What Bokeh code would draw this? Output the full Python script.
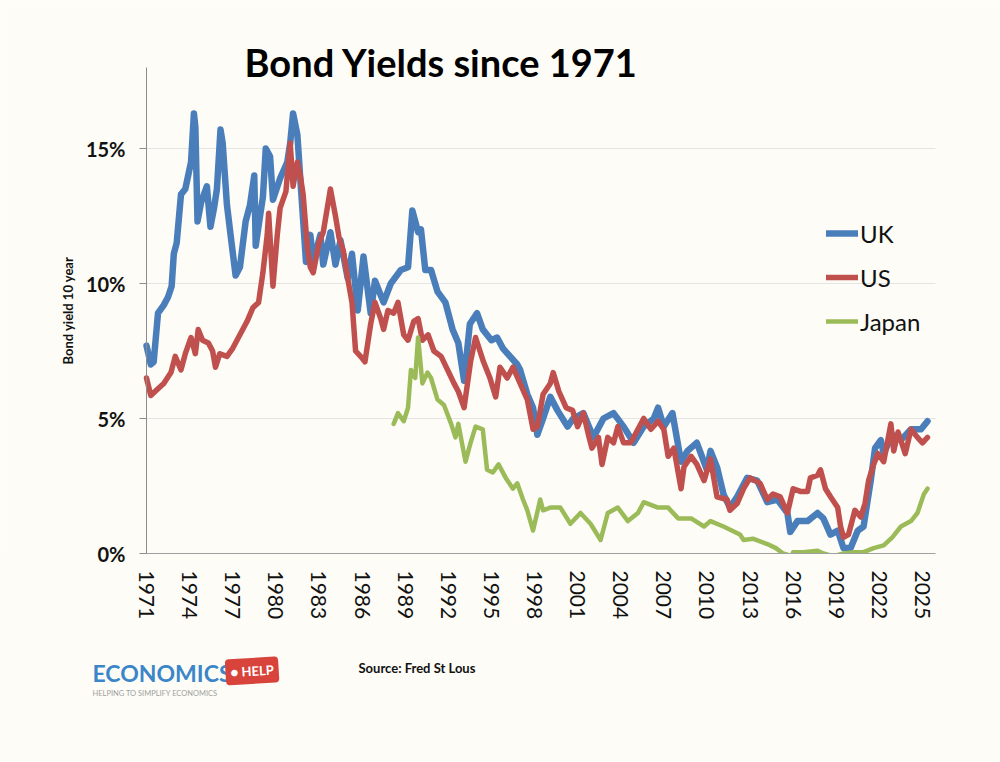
import math
from bokeh.plotting import figure
from bokeh.models import (FixedTicker, PrintfTickFormatter, Label, Legend, LegendItem,
                          Range1d, ColumnDataSource, BoxAnnotation)
from bokeh.embed import file_html
from bokeh.resources import INLINE

# ---------------- data ----------------
uk_year = [1971.0, 1971.3, 1971.5, 1971.8, 1972.2, 1972.5, 1972.75, 1972.9, 1973.1, 1973.4,
           1973.7, 1974.1, 1974.3, 1974.4, 1974.55, 1974.8, 1975.0, 1975.2, 1975.45, 1975.7,
           1975.9, 1976.15, 1976.3, 1976.6, 1976.85, 1977.2, 1977.5, 1977.9, 1978.2, 1978.5,
           1978.6, 1978.9, 1979.1, 1979.3, 1979.6, 1979.8, 1980.3, 1980.8, 1981.0, 1981.2,
           1981.5, 1981.7, 1982.1, 1982.4, 1982.6, 1983.1, 1983.3, 1983.8, 1984.15, 1984.5,
           1985.0, 1985.3, 1985.7, 1986.1, 1986.6, 1986.9, 1987.5, 1988.0, 1988.7, 1989.2,
           1989.5, 1989.9, 1990.1, 1990.4, 1990.8, 1991.25, 1991.8, 1992.3, 1992.7, 1993.1,
           1993.5, 1994.0, 1994.4, 1995.0, 1995.4, 1995.8, 1996.8, 1997.0, 1997.5, 1997.9,
           1998.2, 1998.6, 1999.1, 1999.6, 2000.3, 2000.7, 2001.4, 2002.1, 2002.8, 2003.5,
           2004.2, 2004.9, 2005.6, 2006.3, 2006.6, 2007.0, 2007.6, 2008.2, 2008.65, 2009.3,
           2010.0, 2010.25, 2010.7, 2011.15, 2011.6, 2012.1, 2012.8, 2013.5, 2014.2, 2014.9,
           2015.6, 2015.8, 2016.3, 2017.0, 2017.7, 2018.1, 2018.6, 2019.1, 2019.5, 2020.0,
           2020.5, 2020.9, 2021.4, 2021.7, 2022.1, 2022.3, 2022.9, 2023.5, 2024.2, 2024.9,
           2025.35]
uk_yield = [7.7, 7.0, 7.1, 8.9, 9.2, 9.5, 9.9, 11.1, 11.5, 13.3,
            13.5, 14.5, 16.3, 15.8, 12.3, 13.0, 13.3, 13.6, 12.1, 12.8,
            13.5, 15.7, 15.2, 12.9, 11.8, 10.3, 10.6, 12.3, 12.9, 14.0,
            11.4, 12.5, 13.2, 15.0, 14.7, 13.1, 13.9, 14.5, 15.2, 16.3,
            15.5, 13.9, 10.8, 11.8, 10.8, 11.8, 10.7, 11.9, 10.7, 11.6,
            10.2, 11.1, 9.0, 11.0, 8.9, 10.1, 9.3, 10.0, 10.5, 10.6,
            12.7, 11.9, 12.0, 10.5, 10.5, 9.7, 9.3, 8.3, 7.8, 6.4,
            8.5, 8.9, 8.3, 7.9, 8.0, 7.6, 7.0, 6.8, 5.9, 5.4,
            4.4, 5.0, 5.8, 5.3, 4.7, 5.0, 5.2, 4.3, 5.0, 5.2,
            4.7, 4.1, 4.7, 5.0, 5.4, 4.7, 5.2, 3.4, 3.8, 4.1,
            3.1, 3.8, 3.2, 2.2, 1.7, 2.1, 2.8, 2.7, 1.9, 2.0,
            1.5, 0.8, 1.2, 1.2, 1.5, 1.3, 0.7, 0.85, 0.2, 0.2,
            0.85, 1.0, 2.7, 3.9, 4.2, 3.7, 4.4, 4.2, 4.6, 4.6,
            4.9]

us_year = [1971.0, 1971.3, 1971.8, 1972.2, 1972.7, 1973.0, 1973.4, 1973.7, 1974.1, 1974.4,
           1974.6, 1974.9, 1975.3, 1975.6, 1975.8, 1976.1, 1976.6, 1977.0, 1977.5, 1978.0,
           1978.4, 1978.8, 1979.1, 1979.4, 1979.5, 1979.8, 1980.1, 1980.3, 1980.7, 1981.0,
           1981.2, 1981.5, 1981.7, 1981.9, 1982.2, 1982.4, 1982.6, 1983.0, 1983.3, 1983.8,
           1984.15, 1984.4, 1984.7, 1985.0, 1985.3, 1985.55, 1985.9, 1986.2, 1986.6, 1986.9,
           1987.3, 1987.5, 1987.8, 1988.2, 1988.5, 1988.9, 1989.2, 1989.6, 1989.9, 1990.2,
           1990.6, 1991.0, 1991.5, 1991.95, 1992.4, 1992.7, 1993.1, 1993.55, 1993.9, 1994.45,
           1994.9, 1995.3, 1995.6, 1996.1, 1996.5, 1997.0, 1997.5, 1997.9, 1998.2, 1998.6,
           1999.1, 1999.3, 1999.7, 2000.2, 2000.65, 2001.0, 2001.4, 2001.8, 2002.0, 2002.45,
           2002.7, 2003.1, 2003.5, 2003.8, 2004.2, 2004.7, 2005.2, 2005.6, 2006.1, 2006.6,
           2007.0, 2007.3, 2007.7, 2008.2, 2008.4, 2008.9, 2009.3, 2009.8, 2010.25, 2010.7,
           2011.4, 2011.6, 2012.1, 2012.55, 2013.0, 2013.7, 2014.2, 2014.6, 2015.1, 2015.6,
           2016.0, 2016.5, 2017.0, 2017.2, 2017.7, 2017.9, 2018.25, 2018.6, 2019.1, 2019.3,
           2019.5, 2019.85, 2020.3, 2020.7, 2021.0, 2021.25, 2021.6, 2021.9, 2022.3, 2022.8,
           2023.0, 2023.3, 2023.8, 2024.2, 2024.65, 2025.0, 2025.35]
us_yield = [6.5, 5.85, 6.1, 6.3, 6.7, 7.3, 6.8, 7.4, 8.0, 7.4,
            8.3, 7.9, 7.8, 7.5, 6.9, 7.4, 7.3, 7.6, 8.1, 8.6,
            9.1, 9.3, 10.4, 11.8, 12.6, 9.9, 11.8, 12.8, 13.4, 15.2,
            13.6, 14.5, 14.0, 13.3, 11.3, 10.6, 10.4, 11.5, 11.9, 13.5,
            12.5, 11.7, 11.2, 10.2, 9.3, 7.5, 7.3, 7.1, 8.5, 9.3,
            8.7, 8.3, 9.0, 8.9, 9.3, 8.1, 7.9, 8.6, 8.7, 7.9,
            8.1, 7.5, 7.3, 6.8, 6.3, 6.0, 5.4, 7.1, 8.0, 7.1,
            6.5, 5.8, 6.9, 6.5, 6.9, 6.3, 5.7, 4.6, 4.7, 5.9,
            6.3, 6.7, 6.0, 5.4, 5.3, 4.7, 5.2, 4.3, 3.9, 4.3,
            3.3, 4.3, 4.1, 4.7, 4.1, 4.1, 4.6, 5.0, 4.6, 4.9,
            4.6, 3.6, 3.9, 2.4, 3.2, 3.6, 3.3, 2.7, 3.5, 2.1,
            2.0, 1.6, 1.85, 2.4, 2.8, 2.6, 2.0, 2.2, 2.1, 1.5,
            2.4, 2.3, 2.3, 2.8, 2.9, 3.1, 2.4, 2.1, 1.7, 1.0,
            0.6, 0.7, 1.6, 1.35, 1.85, 2.7, 3.3, 3.7, 3.4, 4.8,
            3.8, 4.5, 3.7, 4.6, 4.3, 4.1, 4.3]

jp_year = [1988.2, 1988.5, 1988.9, 1989.2, 1989.4, 1989.7, 1989.9, 1990.2, 1990.55, 1990.8,
           1991.25, 1991.7, 1992.2, 1992.5, 1992.7, 1993.2, 1993.55, 1993.9, 1994.4, 1994.7,
           1995.1, 1995.5, 1996.0, 1996.5, 1996.8, 1997.2, 1997.5, 1997.9, 1998.4, 1998.6,
           1999.1, 1999.8, 2000.5, 2001.2, 2001.9, 2002.6, 2003.1, 2003.8, 2004.5, 2005.2,
           2005.6, 2006.6, 2007.3, 2008.0, 2008.9, 2009.8, 2010.25, 2011.15, 2012.3, 2012.55,
           2013.2, 2014.2, 2014.8, 2015.3, 2015.9, 2016.0, 2016.7, 2017.7, 2018.1, 2018.8,
           2019.5, 2020.2, 2020.9, 2021.6, 2022.3, 2022.9, 2023.5, 2024.2, 2024.65, 2025.1,
           2025.35]
jp_yield = [4.8, 5.2, 4.9, 5.4, 6.8, 6.5, 8.0, 6.3, 6.7, 6.5,
            5.7, 5.5, 4.8, 4.3, 4.8, 3.4, 4.1, 4.7, 4.6, 3.1,
            3.0, 3.3, 2.8, 2.4, 2.6, 2.0, 1.6, 0.85, 2.0, 1.6,
            1.7, 1.7, 1.1, 1.5, 1.1, 0.5, 1.5, 1.7, 1.2, 1.5,
            1.9, 1.7, 1.7, 1.3, 1.3, 1.0, 1.2, 1.0, 0.7, 0.5,
            0.55, 0.35, 0.2, 0.0, -0.1, 0.05, 0.05, 0.1, 0.0, -0.1,
            0.0, 0.05, 0.05, 0.2, 0.3, 0.6, 1.0, 1.2, 1.5, 2.2,
            2.4]

x_ticks = [1971, 1974, 1977, 1980, 1983, 1986, 1989, 1992, 1995, 1998,
           2001, 2004, 2007, 2010, 2013, 2016, 2019, 2022, 2025]
y_ticks = [0, 5, 10, 15]
series_names = ["UK", "US", "Japan"]

# ---------------- styling ----------------
BG = "#FDFCF6"
FONT = "Lato"
COLORS = {"UK": "#4A7EBB", "US": "#C0504D", "Japan": "#9BBB59"}
WIDTHS = {"UK": 6.5, "US": 5.5, "Japan": 4.5}

W, H = 1000, 762
X_START, X_END = 1971.0, 2025.9      # extent of the drawn x axis
Y_AXIS_TOP = 18.0                    # extent of the drawn y axis
PX_PER_YEAR, PX_PER_PCT = 14.37, 27.0
LEFT_PX, BOTTOM_PX = 146, 209        # where the axes cross, measured from left / bottom

# the frame fills the whole page; the axes sit at fixed locations inside it
x_lo = X_START - LEFT_PX / PX_PER_YEAR
x_hi = X_START + (W - LEFT_PX) / PX_PER_YEAR
y_lo = -BOTTOM_PX / PX_PER_PCT
y_hi = (H - BOTTOM_PX) / PX_PER_PCT

p = figure(width=W, height=H, output_backend="svg", toolbar_location=None,
           x_range=Range1d(x_lo, x_hi), y_range=Range1d(y_lo, y_hi),
           min_border=0, background_fill_color=BG, border_fill_color=BG,
           outline_line_color=None)
p.title.visible = False

renderers = {}
for name, xs, ys in [("UK", uk_year, uk_yield), ("US", us_year, us_yield),
                     ("Japan", jp_year, jp_yield)]:
    src = ColumnDataSource(dict(x=xs, y=ys))
    renderers[name] = p.line("x", "y", source=src, line_color=COLORS[name],
                             line_width=WIDTHS[name], line_join="round",
                             line_cap="round")

# hide anything that dips below 0 % (as the original chart clips its plot area)
p.add_layout(BoxAnnotation(top=0, fill_color=BG, fill_alpha=1.0, line_color=None,
                           level="glyph"))

# axes
p.yaxis.fixed_location = X_START
p.yaxis.bounds = (0, Y_AXIS_TOP)
p.yaxis.ticker = FixedTicker(ticks=y_ticks)
p.yaxis.formatter = PrintfTickFormatter(format="%d%%")
p.yaxis.major_label_text_font = FONT
p.yaxis.major_label_text_font_style = "bold"
p.yaxis.major_label_text_font_size = "20px"
p.yaxis.major_label_text_color = "#111111"
p.yaxis.axis_line_color = "#8C8C8C"
p.yaxis.major_tick_line_color = "#8C8C8C"
p.yaxis.major_tick_out = 7
p.yaxis.major_tick_in = 0
p.yaxis.minor_tick_line_color = None
p.yaxis.major_label_standoff = 14
p.yaxis.axis_label = "Bond yield 10 year"
p.yaxis.axis_label_text_font = FONT
p.yaxis.axis_label_text_font_style = "bold"
p.yaxis.axis_label_text_font_size = "13px"
p.yaxis.axis_label_text_color = "#111111"
p.yaxis.axis_label_standoff = 7

p.xaxis.fixed_location = 0
p.xaxis.bounds = (X_START, X_END)
p.xaxis.ticker = FixedTicker(ticks=x_ticks)
p.xaxis.major_label_orientation = -math.pi / 2
p.xaxis.major_label_text_font = FONT
p.xaxis.major_label_text_font_size = "21px"
p.xaxis.major_label_text_color = "#111111"
p.xaxis.axis_line_color = "#A0A0A0"
p.xaxis.major_tick_out = 0
p.xaxis.major_tick_in = 0
p.xaxis.minor_tick_line_color = None
p.xaxis.major_label_standoff = 17

p.xgrid.visible = False
grid_ok = True
try:
    p.ygrid.cross_bounds = (X_START, X_END)
except Exception:
    grid_ok = False
if grid_ok:
    p.ygrid.ticker = FixedTicker(ticks=y_ticks[1:])
    p.ygrid.grid_line_color = "#E4E4E4"
else:
    p.ygrid.visible = False
    for t in y_ticks[1:]:
        p.add_layout(BoxAnnotation(bottom=t, top=t, left=X_START, right=X_END,
                                   fill_alpha=0, line_color="#E4E4E4", line_width=1,
                                   level="underlay"))

# legend
legend = Legend(items=[LegendItem(label=n, renderers=[renderers[n]]) for n in series_names],
                location=(826, 426), orientation="vertical",
                label_text_font=FONT, label_text_font_size="24px",
                label_text_color="#111111", glyph_width=32, glyph_height=30,
                label_height=30, label_standoff=2, spacing=14, padding=0, margin=0,
                border_line_color=None, background_fill_alpha=0)
p.add_layout(legend)

# texts (screen units from the page's bottom-left corner)
def add_text(x, y, text, size, color, bold=False, align="left", **kw):
    p.add_layout(Label(x=x, y=y, x_units="screen", y_units="screen", text=text,
                       text_align=align, text_baseline="alphabetic", text_font=FONT,
                       text_font_style="bold" if bold else "normal",
                       text_font_size=f"{size}px", text_color=color, **kw))

add_text(441, 701, "Bond Yields since 1971", 38, "#000000", bold=True, align="center")
add_text(92, 90, "ECONOMICS", 23, "#3A86C8", bold=True)
add_text(225, 90, "\u25CF HELP", 13, "#FFFFFF", bold=True, angle=0.06,
         background_fill_color="#D8443C", padding=5, border_radius=4)
add_text(92, 69, "HELPING TO SIMPLIFY ECONOMICS", 7.5, "#A0A0A0")
add_text(358, 95, "Source: Fred St Lous", 13, "#111111", bold=True)

open("out.html", "w").write(file_html(p, INLINE))
